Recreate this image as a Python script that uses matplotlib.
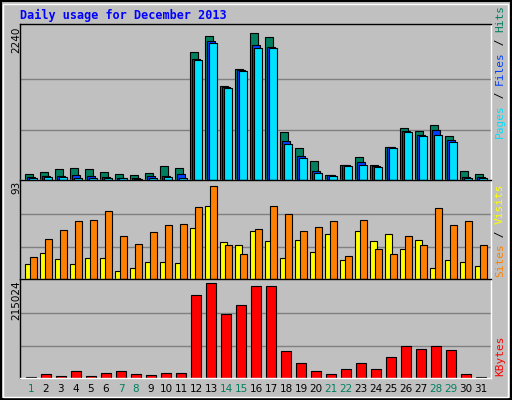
import matplotlib
matplotlib.use("Agg")
import matplotlib.pyplot as plt
import numpy as np

days = list(range(1, 32))
hits = [94,123,158,172,158,123,94,79,108,212,182,1895,2132,1393,1644,2176,2117,714,478,286,79,226,345,226,492,773,729,817,655,138,94]
files = [49,64,64,79,64,49,34,34,64,64,94,1792,2058,1378,1630,1999,1969,581,359,138,79,226,271,212,492,729,670,743,596,49,49]
pages = [34,49,49,34,34,34,34,15,34,49,34,1777,2028,1364,1615,1954,1954,537,330,108,64,212,226,197,478,714,655,670,566,34,34]
visits = [14.5,25,19,14,20,20,8,11,16,16,15.5,49,70,35,33,46,36,20,37,26,43,18,46,36,43,29,37,11,18,16,12]
sites = [21,38,46.5,56,57,65,41,34,45,52,53,69,89,33,24,48,70,62,46,50,56,22,57,29,24,41,33,68,52,56,33]
kbytes = [2300,9200,4600,16100,4600,11500,16100,9200,6900,11500,11500,184300,209700,142800,161300,202800,202800,59900,32300,16100,9200,20700,32300,20700,46100,71400,64500,71400,62200,9200,2300]
weekend = {1,7,8,14,15,21,22,28,29}
max_hits, max_sites, max_kb = 2240, 93, 215024

W, H = 512, 400
fig = plt.figure(figsize=(W/100, H/100), dpi=100)
fig.patch.set_facecolor('#C0C0C0')
# outer border
fig.add_artist(plt.Rectangle((1/W, 1/H), (W-2)/W, (H-2)/H, fill=False, edgecolor='black', lw=1.5, transform=fig.transFigure))
fig.add_artist(plt.Rectangle((3/W, 3/H), (W-7)/W, (H-7)/H, fill=False, edgecolor='white', lw=1, transform=fig.transFigure))
mono = 'DejaVu Sans Mono'
fig.text(20/W, 1-15/H, 'Daily usage for December 2013', color='#0000FF', fontsize=8.5, fontweight='bold', family=mono, va='center')

def mkax(y0, y1):
    ax = fig.add_axes([20/W, 1-y1/H, 471/W, (y1-y0)/H])
    ax.set_facecolor('#C0C0C0')
    ax.set_xlim(0.27, 31.67)
    ax.set_xticks([]); ax.set_yticks([])
    for s in ax.spines.values():
        s.set_color('black'); s.set_linewidth(1)
    ax.spines['right'].set_color('white'); ax.spines['bottom'].set_color('white')
    return ax

x = np.array(days, dtype=float)
ax1 = mkax(24, 180)
ax1.set_ylim(0, max_hits*1.03)
for g in [max_hits/3, 2*max_hits/3]:
    ax1.axhline(g, color='#808080', lw=1, zorder=0)
bw = 0.5
ax1.bar(x-0.13, hits, width=bw, color='#00805F', edgecolor='black', lw=0.8, zorder=2)
ax1.bar(x+0.0, files, width=bw, color='#0040FF', edgecolor='black', lw=0.8, zorder=3)
ax1.bar(x+0.13, pages, width=bw, color='#00E0FF', edgecolor='black', lw=0.8, zorder=4)
fig.text(16/W, 1-40/H, str(max_hits), rotation=90, fontsize=7.5, ha='center', va='center')

ax2 = mkax(180, 279)
ax2.set_ylim(0, max_sites*1.02)
for g in [max_sites/3, 2*max_sites/3]:
    ax2.axhline(g, color='#808080', lw=1, zorder=0)
ax2.bar(x-0.15, visits, width=0.45, color='#FFFF00', edgecolor='black', lw=0.8, zorder=2)
ax2.bar(x+0.15, sites, width=0.45, color='#FF8000', edgecolor='black', lw=0.8, zorder=3)
fig.text(16/W, 1-187/H, str(max_sites), rotation=90, fontsize=7.5, ha='center', va='center')

ax3 = mkax(279, 378)
ax3.set_ylim(0, max_kb*1.02)
for g in [max_kb/3, 2*max_kb/3]:
    ax3.axhline(g, color='#808080', lw=1, zorder=0)
ax3.bar(x, kbytes, width=0.68, color='#FF0000', edgecolor='black', lw=0.8, zorder=2)
fig.text(16/W, 1-300/H, str(max_kb), rotation=90, fontsize=7.5, ha='center', va='center')

for d in days:
    xf = (20 + (d-0.27)/(31.67-0.27)*471)/W
    fig.text(xf, 1-389/H, str(d), ha='center', va='center', fontsize=7.5,
             color='#00805F' if d in weekend else 'black')

def vlabel(y_bottom, parts):
    y = y_bottom
    for txt, col in parts:
        t = fig.text(500/W, 1-y/H, txt, rotation=90, color=col, fontsize=8, family=mono, ha='center', va='bottom')
        y -= len(txt)*6.6
vlabel(138, [('Pages', '#00E0FF'), (' / ', 'black'), ('Files', '#0040FF'), (' / ', 'black'), ('Hits', '#00805F')])
vlabel(277, [('Sites', '#FF8000'), (' / ', 'black'), ('Visits', '#FFFF00')])
vlabel(376, [('KBytes', '#FF0000')])

fig.savefig('out.png', dpi=100, facecolor=fig.get_facecolor())
